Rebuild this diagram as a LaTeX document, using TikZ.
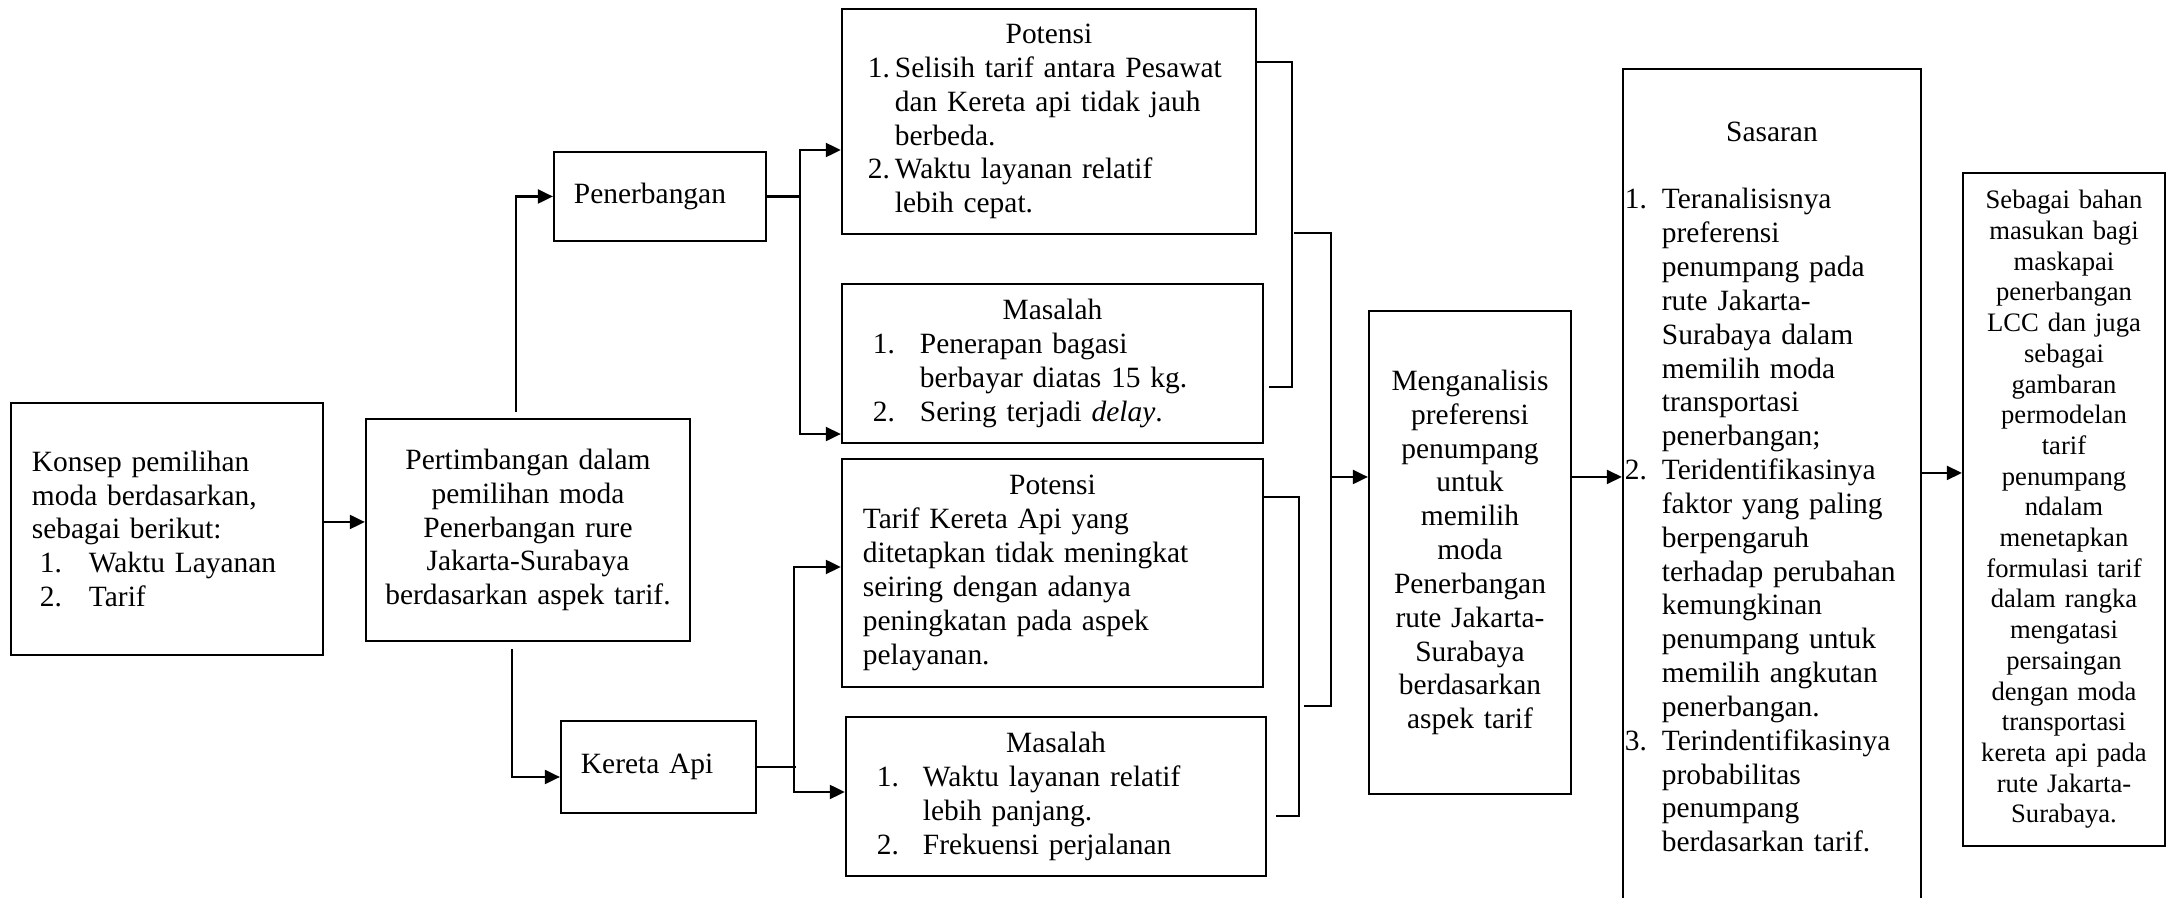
\documentclass[tikz,border=0pt]{standalone}
\usepackage{fontspec}
\setmainfont{Liberation Serif}
\usetikzlibrary{arrows.meta}

\begin{document}
\begin{tikzpicture}[x=0.01cm,y=-0.01cm,
  box/.style={draw,line width=0.6pt,inner ysep=0pt,align=left,
    font=\fontsize{8.37}{9.62}\selectfont},
  arr/.style={line width=0.6pt,-{Triangle[length=0.15cm,width=0.14cm]}},
  arrs/.style={line width=0.6pt,{Triangle[length=0.15cm,width=0.14cm]}-{Triangle[length=0.15cm,width=0.14cm]}},
  ln/.style={line width=0.6pt}]
\useasboundingbox (0,0) rectangle (2168,898);

% kiri
\node[box,minimum width=3.12cm,minimum height=2.52cm,inner xsep=0.21cm,text width=2.70cm] (konsep) at (167,529){Konsep pemilihan\\moda berdasarkan,\\sebagai berikut:\\\hspace*{0.08cm}\makebox[0.49cm][l]{1.}Waktu Layanan\\\hspace*{0.08cm}\makebox[0.49cm][l]{2.}Tarif};
\node[box,align=center,minimum width=3.24cm,minimum height=2.22cm,inner xsep=0.12cm,text width=3.00cm] (pertim) at (528,530){Pertimbangan dalam\\pemilihan moda\\Penerbangan rure\\Jakarta-Surabaya\\berdasarkan aspek tarif.};
\node[box,minimum width=2.12cm,minimum height=0.89cm,inner xsep=0.20cm,text width=1.72cm] (penerb) at (660,196.5){Penerbangan};
\node[box,minimum width=1.95cm,minimum height=0.92cm,inner xsep=0.20cm,text width=1.55cm] (kereta) at (658.5,767){Kereta Api};

% potensi dan masalah
\node[box,minimum width=4.14cm,minimum height=2.25cm,inner xsep=0.26cm,text width=3.62cm] (potA) at (1049,121.5){\makebox[\linewidth]{Potensi}\\\makebox[0.27cm][l]{1.}Selisih tarif antara Pesawat\\\hspace*{0.27cm}dan Kereta api tidak jauh\\\hspace*{0.27cm}berbeda.\\\makebox[0.27cm][l]{2.}Waktu layanan relatif\\\hspace*{0.27cm}lebih cepat.};
\node[box,minimum width=4.21cm,minimum height=1.59cm,inner xsep=0.31cm,text width=3.59cm] (masA) at (1052.5,363.5){\makebox[\linewidth]{Masalah}\\\makebox[0.47cm][l]{1.}Penerapan bagasi\\\hspace*{0.47cm}berbayar diatas 15 kg.\\\makebox[0.47cm][l]{2.}Sering terjadi \textit{delay}.};
\node[box,minimum width=4.21cm,minimum height=2.28cm,inner xsep=0.21cm,text width=3.79cm] (potB) at (1052.5,573){\makebox[\linewidth]{Potensi}\\Tarif Kereta Api yang\\ditetapkan tidak meningkat\\seiring dengan adanya\\peningkatan pada aspek\\pelayanan.};
\node[box,minimum width=4.20cm,minimum height=1.59cm,inner xsep=0.31cm,text width=3.58cm] (masB) at (1056,796.5){\makebox[\linewidth]{Masalah}\\\makebox[0.46cm][l]{1.}Waktu layanan relatif\\\hspace*{0.46cm}lebih panjang.\\\makebox[0.46cm][l]{2.}Frekuensi perjalanan};

% kanan
\node[box,align=center,minimum width=2.02cm,minimum height=4.83cm,inner xsep=0.06cm,text width=1.90cm] (anal) at (1470,552.5){Menganalisis\\preferensi\\penumpang\\untuk\\memilih\\moda\\Penerbangan\\rute Jakarta-\\Surabaya\\berdasarkan\\aspek tarif};
\node[box,minimum width=2.98cm,minimum height=8.36cm,inner xsep=0.02cm,text width=2.94cm] (sasaran) at (1772,487){\makebox[\linewidth]{Sasaran}\\[9.62pt]\makebox[0.37cm][l]{1.}Teranalisisnya\\\hspace*{0.37cm}preferensi\\\hspace*{0.37cm}penumpang pada\\\hspace*{0.37cm}rute Jakarta-\\\hspace*{0.37cm}Surabaya dalam\\\hspace*{0.37cm}memilih moda\\\hspace*{0.37cm}transportasi\\\hspace*{0.37cm}penerbangan;\\\makebox[0.37cm][l]{2.}Teridentifikasinya\\\hspace*{0.37cm}faktor yang paling\\\hspace*{0.37cm}berpengaruh\\\hspace*{0.37cm}terhadap perubahan\\\hspace*{0.37cm}kemungkinan\\\hspace*{0.37cm}penumpang untuk\\\hspace*{0.37cm}memilih angkutan\\\hspace*{0.37cm}penerbangan.\\\makebox[0.37cm][l]{3.}Terindentifikasinya\\\hspace*{0.37cm}probabilitas\\\hspace*{0.37cm}penumpang\\\hspace*{0.37cm}berdasarkan tarif.};
\node[box,align=center,font=\fontsize{7.57}{8.73}\selectfont,minimum width=2.02cm,minimum height=6.73cm,inner xsep=0.06cm,text width=1.90cm] (final) at (2064,509.5){Sebagai bahan\\masukan bagi\\maskapai\\penerbangan\\LCC dan juga\\sebagai\\gambaran\\permodelan\\tarif\\penumpang\\ndalam\\menetapkan\\formulasi tarif\\dalam rangka\\mengatasi\\persaingan\\dengan moda\\transportasi\\kereta api pada\\rute Jakarta-\\Surabaya.};

% panah
\draw[arr] ([yshift=0.07cm]konsep.east) -- ([yshift=0.08cm]pertim.west);
\draw[arr] ([xshift=-0.12cm,yshift=0.06cm]pertim.north) |- (penerb.west);
\draw[arr] ([xshift=-0.16cm,yshift=-0.07cm]pertim.south) |- ([yshift=-0.10cm]kereta.west);
\draw[ln] (penerb.east) -- ++(32,0);
\draw[arrs] ([yshift=-0.285cm]potA.west) -- ++(-41,0) |- ([yshift=-0.705cm]masA.west);
\draw[ln] (kereta.east) -- ++(39,0);
\draw[arrs] ([yshift=0.06cm]potB.west) -- ++(-47,0) |- ([yshift=0.045cm]masB.west);
\draw[ln] ([yshift=0.595cm]potA.east) -- ++(35,0) |- ([xshift=0.05cm,yshift=-0.235cm]masA.east);
\draw[ln] ([yshift=0.76cm]potB.east) -- ++(35,0) |- ([xshift=0.09cm,yshift=-0.195cm]masB.east);
\coordinate (cA) at (1294,233);
\coordinate (cB) at (1304,706);
\coordinate (jn) at (1331,477);
\draw[ln] (cA) -| (jn) |- (cB);
\draw[arr] (jn) -- (jn -| anal.west);
\coordinate (m1) at ([yshift=0.755cm]anal.east);
\draw[arr] (m1) -- (m1 -| sasaran.west);
\draw[arr] ([yshift=0.04cm]m1 -| sasaran.east) -- ([yshift=0.04cm]m1 -| final.west);
\end{tikzpicture}
\end{document}
